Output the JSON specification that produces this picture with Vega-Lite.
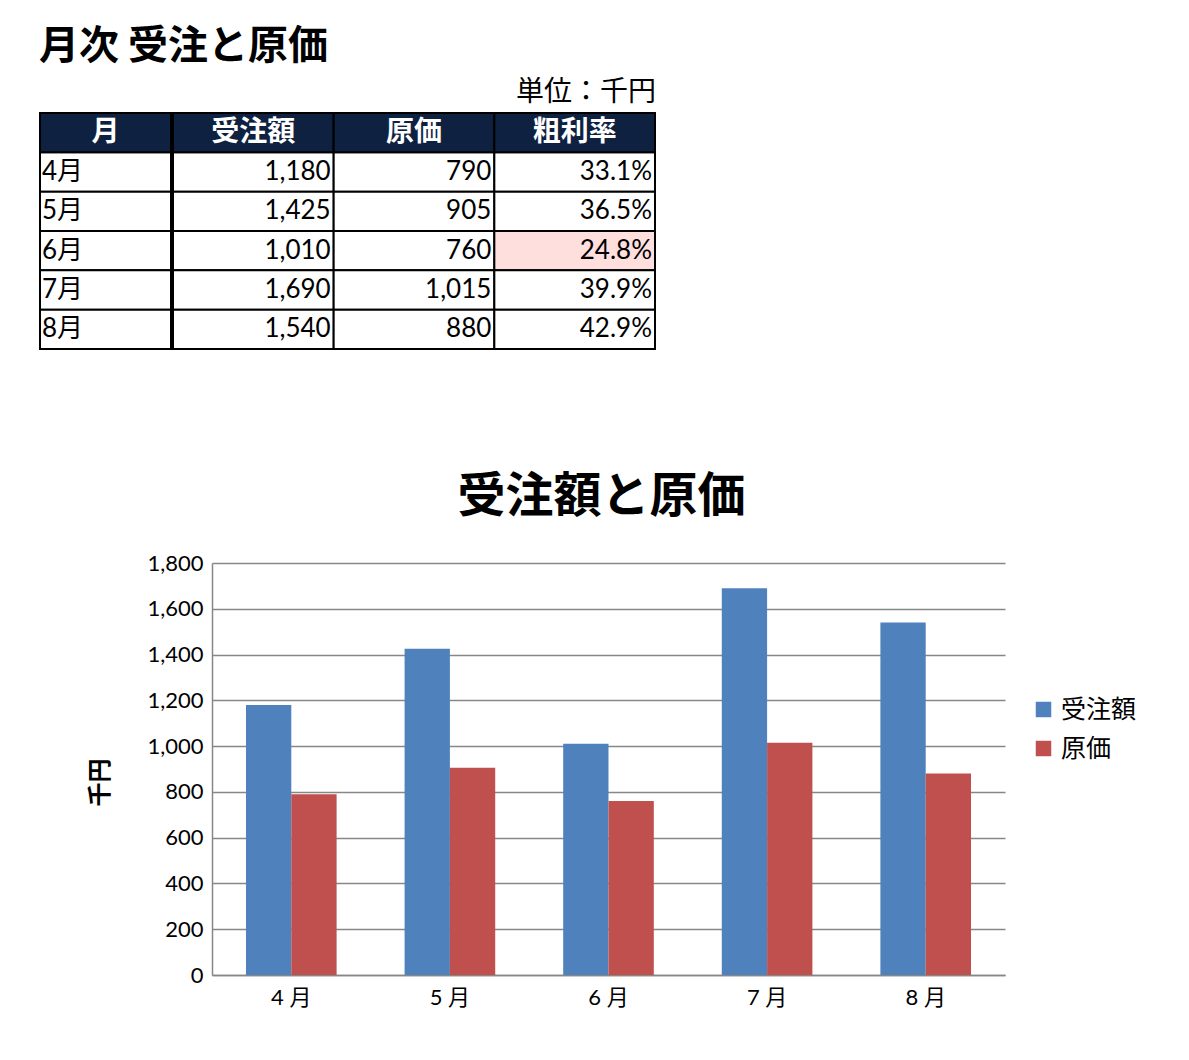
{
  "$schema": "https://vega.github.io/schema/vega-lite/v6.json",
  "description": "月次 受注と原価: table plus grouped bar chart",
  "padding": {"left": 39, "top": 27, "right": 0, "bottom": 0},
  "background": "#ffffff",
  "title": {
    "text": "月次 受注と原価",
    "anchor": "start",
    "font": "Noto Sans CJK JP",
    "fontSize": 40,
    "fontWeight": "bold",
    "color": "#000000",
    "offset": 12
  },
  "datasets": {
    "months": [
      {"月": "4月", "受注額": 1180, "原価": 790, "粗利率": 0.331},
      {"月": "5月", "受注額": 1425, "原価": 905, "粗利率": 0.365},
      {"月": "6月", "受注額": 1010, "原価": 760, "粗利率": 0.248},
      {"月": "7月", "受注額": 1690, "原価": 1015, "粗利率": 0.399},
      {"月": "8月", "受注額": 1540, "原価": 880, "粗利率": 0.429}
    ]
  },
  "vconcat": [
    {
      "hconcat": [
        {
          "width": 131,
          "height": 236,
          "title": {"text": " ", "fontSize": 28, "offset": 5},
          "layer": [
            {
              "data": {"name": "months"},
              "mark": {"type": "rect", "fill": "#ffffff", "stroke": "#000000", "strokeWidth": 2},
              "encoding": {
                "x": {"datum": "月", "type": "nominal", "scale": {"domain": ["月"], "paddingInner": 0, "paddingOuter": 0}, "axis": null},
                "y": {"field": "月", "type": "nominal", "scale": {"domain": ["見出し", "4月", "5月", "6月", "7月", "8月"], "paddingInner": 0, "paddingOuter": 0}, "axis": null}
              }
            },
            {
              "data": {"values": [{"列": "月"}]},
              "mark": {"type": "rect", "fill": "#0f2140", "stroke": "#000000", "strokeWidth": 2},
              "encoding": {
                "x": {"field": "列", "type": "nominal"},
                "y": {"datum": "見出し", "type": "nominal"}
              }
            },
            {
              "data": {"values": [{"列": "月"}]},
              "mark": {"type": "text", "color": "#ffffff", "fontSize": 28, "fontWeight": "bold", "font": "Noto Sans CJK JP", "baseline": "middle"},
              "encoding": {
                "x": {"field": "列", "type": "nominal"},
                "y": {"datum": "見出し", "type": "nominal"},
                "text": {"field": "列"}
              }
            },
            {
              "data": {"name": "months"},
              "mark": {"type": "text", "align": "left", "dx": 2, "fontSize": 26, "baseline": "middle", "color": "#000000"},
              "encoding": {
                "x": {"datum": "月", "type": "nominal", "bandPosition": 0},
                "y": {"field": "月", "type": "nominal"},
                "text": {"field": "月"}
              }
            }
          ]
        },
        {
          "width": 482,
          "height": 236,
          "title": {"text": "単位：千円", "anchor": "end", "fontSize": 28, "fontWeight": "normal", "font": "Noto Sans CJK JP", "color": "#000000", "offset": 5},
          "layer": [
            {
              "data": {"name": "months"},
              "transform": [{"fold": ["受注額", "原価", "粗利率"], "as": ["列", "値"]}],
              "mark": {"type": "rect", "stroke": "#000000", "strokeWidth": 2},
              "encoding": {
                "x": {"field": "列", "type": "nominal", "scale": {"domain": ["受注額", "原価", "粗利率"], "paddingInner": 0, "paddingOuter": 0}, "axis": null},
                "y": {"field": "月", "type": "nominal", "scale": {"domain": ["見出し", "4月", "5月", "6月", "7月", "8月"], "paddingInner": 0, "paddingOuter": 0}, "axis": null},
                "fill": {
                  "condition": {"test": "datum['列'] === '粗利率' && datum['値'] < 0.3", "value": "#ffdede"},
                  "value": "#ffffff"
                }
              }
            },
            {
              "data": {"values": [{"列": "受注額"}, {"列": "原価"}, {"列": "粗利率"}]},
              "mark": {"type": "rect", "fill": "#0f2140", "stroke": "#000000", "strokeWidth": 2},
              "encoding": {
                "x": {"field": "列", "type": "nominal"},
                "y": {"datum": "見出し", "type": "nominal"}
              }
            },
            {
              "data": {"values": [{"列": "受注額"}, {"列": "原価"}, {"列": "粗利率"}]},
              "mark": {"type": "text", "color": "#ffffff", "fontSize": 28, "fontWeight": "bold", "font": "Noto Sans CJK JP", "baseline": "middle"},
              "encoding": {
                "x": {"field": "列", "type": "nominal"},
                "y": {"datum": "見出し", "type": "nominal"},
                "text": {"field": "列"}
              }
            },
            {
              "data": {"name": "months"},
              "mark": {"type": "text", "align": "right", "dx": -3, "fontSize": 26, "baseline": "middle", "color": "#000000"},
              "encoding": {
                "x": {"datum": "受注額", "type": "nominal", "bandPosition": 1},
                "y": {"field": "月", "type": "nominal"},
                "text": {"field": "受注額", "type": "quantitative", "format": ","}
              }
            },
            {
              "data": {"name": "months"},
              "mark": {"type": "text", "align": "right", "dx": -3, "fontSize": 26, "baseline": "middle", "color": "#000000"},
              "encoding": {
                "x": {"datum": "原価", "type": "nominal", "bandPosition": 1},
                "y": {"field": "月", "type": "nominal"},
                "text": {"field": "原価", "type": "quantitative", "format": ","}
              }
            },
            {
              "data": {"name": "months"},
              "mark": {"type": "text", "align": "right", "dx": -3, "fontSize": 26, "baseline": "middle", "color": "#000000"},
              "encoding": {
                "x": {"datum": "粗利率", "type": "nominal", "bandPosition": 1},
                "y": {"field": "月", "type": "nominal"},
                "text": {"field": "粗利率", "type": "quantitative", "format": ".1%"}
              }
            }
          ]
        }
      ],
      "spacing": 0
    },
    {
      "hconcat": [
        {
          "width": 11,
          "height": 412,
          "data": {"values": []},
          "mark": "rect",
          "view": {"fill": "#ffffff", "stroke": null}
        },
        {
          "width": 793,
          "height": 412,
          "title": {
            "text": "受注額と原価",
            "anchor": "middle",
            "frame": "group",
            "dx": -7,
            "font": "Noto Sans CJK JP",
            "fontSize": 48,
            "fontWeight": "bold",
            "color": "#000000",
            "offset": 30
          },
          "data": {"name": "months"},
          "transform": [{"fold": ["受注額", "原価"], "as": ["系列", "金額"]}],
          "mark": {"type": "bar"},
          "encoding": {
            "x": {
              "field": "月",
              "type": "nominal",
              "sort": null,
              "scale": {"paddingInner": 0.4286, "paddingOuter": 0.2143},
              "axis": {
                "title": null,
                "labelAngle": 0,
                "labelFontSize": 22,
                "labelPadding": 12,
                "labelExpr": "replace(datum.label, '月', ' 月')",
                "ticks": false,
                "tickSize": 0,
                "domainColor": "#878787",
                "domainWidth": 1.5
              }
            },
            "xOffset": {
              "field": "系列",
              "type": "nominal",
              "sort": ["受注額", "原価"],
              "scale": {"paddingInner": 0, "paddingOuter": 0}
            },
            "y": {
              "field": "金額",
              "type": "quantitative",
              "scale": {"domain": [0, 1800], "nice": false},
              "axis": {
                "values": [0, 200, 400, 600, 800, 1000, 1200, 1400, 1600, 1800],
                "format": ",.0f",
                "title": "千円",
                "titleFont": "Noto Sans CJK JP",
                "titleFontSize": 24,
                "titleFontWeight": "bold",
                "titleX": -112,
                "titleY": 219,
                "titleBaseline": "middle",
                "minExtent": 161,
                "labelFontSize": 22,
                "labelPadding": 9,
                "ticks": false,
                "tickSize": 0,
                "domainColor": "#878787",
                "domainWidth": 1.5,
                "gridColor": "#878787",
                "gridWidth": 1.5
              }
            },
            "color": {
              "field": "系列",
              "type": "nominal",
              "scale": {"domain": ["受注額", "原価"], "range": ["#4f81bd", "#c0504d"]},
              "legend": {
                "orient": "none",
                "legendX": 819,
                "legendY": 134,
                "title": null,
                "symbolType": "square",
                "symbolSize": 240,
                "symbolStrokeWidth": 0,
                "labelFont": "Noto Sans CJK JP",
                "labelFontSize": 25,
                "labelOffset": 5,
                "rowPadding": 13,
                "padding": 0
              }
            }
          }
        }
      ],
      "spacing": 0,
      "resolve": {"scale": {"color": "independent"}, "legend": {"color": "independent"}}
    }
  ],
  "spacing": 123,
  "resolve": {"scale": {"color": "independent"}, "legend": {"color": "independent"}},
  "config": {
    "font": "Lato, 'Noto Sans CJK JP', sans-serif",
    "view": {"stroke": null},
    "axis": {
      "labelFont": "Lato, 'Noto Sans CJK JP', sans-serif",
      "labelColor": "#000000",
      "titleColor": "#000000"
    },
    "legend": {"labelColor": "#000000"},
    "text": {"font": "Lato, 'Noto Sans CJK JP', sans-serif"}
  }
}
